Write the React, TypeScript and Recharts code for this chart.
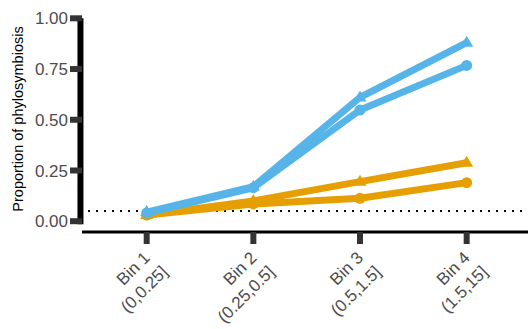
import React from 'react'
import { LineChart, Line, XAxis, YAxis, ReferenceLine } from 'recharts'

// Size bins along the x axis
const binPositions = [1, 2, 3, 4]
const binNames = ['Bin 1', 'Bin 2', 'Bin 3', 'Bin 4']
const binRanges = ['(0,0.25]', '(0.25,0.5]', '(0.5,1.5]', '(1.5,15]']

// Proportion of phylosymbiosis per bin
const blueTriangle = [0.045, 0.17, 0.61, 0.88]
const blueCircle = [0.04, 0.165, 0.548, 0.768]
const orangeTriangle = [0.03, 0.1, 0.195, 0.288]
const orangeCircle = [0.03, 0.085, 0.113, 0.19]

const yTicks = [0, 0.25, 0.5, 0.75, 1]
const threshold = 0.05

const BLUE = '#56B4E9'
const ORANGE = '#E69F00'
const FONT = '"Liberation Sans", Arial, sans-serif'

const data = binPositions.map((bin, i) => ({
  bin,
  blueTriangle: blueTriangle[i],
  blueCircle: blueCircle[i],
  orangeTriangle: orangeTriangle[i],
  orangeCircle: orangeCircle[i],
}))

const triangleDot = (color: string) => (props: any) => {
  const { cx, cy, index } = props
  if (cx == null || cy == null) return null
  return (
    <path
      key={`tri-${color}-${index}`}
      d={`M${cx},${cy - 7} L${cx + 6.5},${cy + 4} L${cx - 6.5},${cy + 4} Z`}
      fill={color}
    />
  )
}

// two-line tick label, rotated 45 degrees
const BinTick = (props: any) => {
  const { x, y, payload } = props
  const i = binPositions.indexOf(payload.value)
  if (i < 0) return null
  return (
    <g transform={`translate(${x},${y}) rotate(-45)`}>
      <text x={-6} y={12} textAnchor="end" fill="#4D4D4D" fontSize={17} fontFamily={FONT}>
        {binNames[i]}
      </text>
      <text x={-3.5} y={34.5} textAnchor="end" fill="#4D4D4D" fontSize={17} fontFamily={FONT}>
        {binRanges[i]}
      </text>
    </g>
  )
}

const YTitle = () => (
  <text
    x={18}
    y={119}
    transform="rotate(-90 18 119)"
    textAnchor="middle"
    dominantBaseline="central"
    fontSize={14.5}
    fontFamily={FONT}
    fill="#000"
  >
    Proportion of phylosymbiosis
  </text>
)

export default function App() {
  return (
    <div style={{ position: 'absolute', left: 0, top: 0, background: '#fff' }}>
      <LineChart width={528} height={329} data={data} margin={{ top: 8, right: 0, bottom: 0, left: 0 }}>
        <XAxis
          dataKey="bin"
          type="number"
          domain={[0.3935, 4.575]}
          ticks={binPositions}
          interval={0}
          allowDataOverflow
          height={97}
          tickSize={12}
          tickMargin={2}
          tickLine={{ stroke: '#333', strokeWidth: 6 }}
          axisLine={{ stroke: '#000', strokeWidth: 3 }}
          tick={<BinTick />}
        />
        <YAxis
          type="number"
          domain={[-0.0532, 1.0508]}
          ticks={yTicks}
          allowDataOverflow
          width={82}
          tickSize={12}
          tickMargin={2}
          axisLine={false}
          tickLine={{ stroke: '#333', strokeWidth: 6 }}
          tick={{ fill: '#4D4D4D', fontSize: 17, fontFamily: FONT }}
          tickFormatter={(v: number) => v.toFixed(2)}
          label={YTitle}
        />
        {/* y axis bar spans 0 to 1 only */}
        <ReferenceLine
          segment={[
            { x: 0.379, y: -0.015 },
            { x: 0.379, y: 1 },
          ]}
          stroke="#000"
          strokeWidth={6}
          ifOverflow="visible"
        />
        <ReferenceLine
          segment={[
            { x: 0.45, y: threshold },
            { x: 4.575, y: threshold },
          ]}
          stroke="#000"
          strokeWidth={2}
          strokeDasharray="2 6"
          ifOverflow="visible"
        />
        <Line
          dataKey="orangeCircle"
          stroke={ORANGE}
          strokeWidth={7}
          strokeLinejoin="round"
          dot={{ r: 5.5, fill: ORANGE, stroke: 'none' }}
          activeDot={false}
          isAnimationActive={false}
        />
        <Line
          dataKey="orangeTriangle"
          stroke={ORANGE}
          strokeWidth={7}
          strokeLinejoin="round"
          dot={triangleDot(ORANGE)}
          activeDot={false}
          isAnimationActive={false}
        />
        <Line
          dataKey="blueCircle"
          stroke={BLUE}
          strokeWidth={7}
          strokeLinejoin="round"
          dot={{ r: 5.5, fill: BLUE, stroke: 'none' }}
          activeDot={false}
          isAnimationActive={false}
        />
        <Line
          dataKey="blueTriangle"
          stroke={BLUE}
          strokeWidth={7}
          strokeLinejoin="round"
          dot={triangleDot(BLUE)}
          activeDot={false}
          isAnimationActive={false}
        />
      </LineChart>
    </div>
  )
}
